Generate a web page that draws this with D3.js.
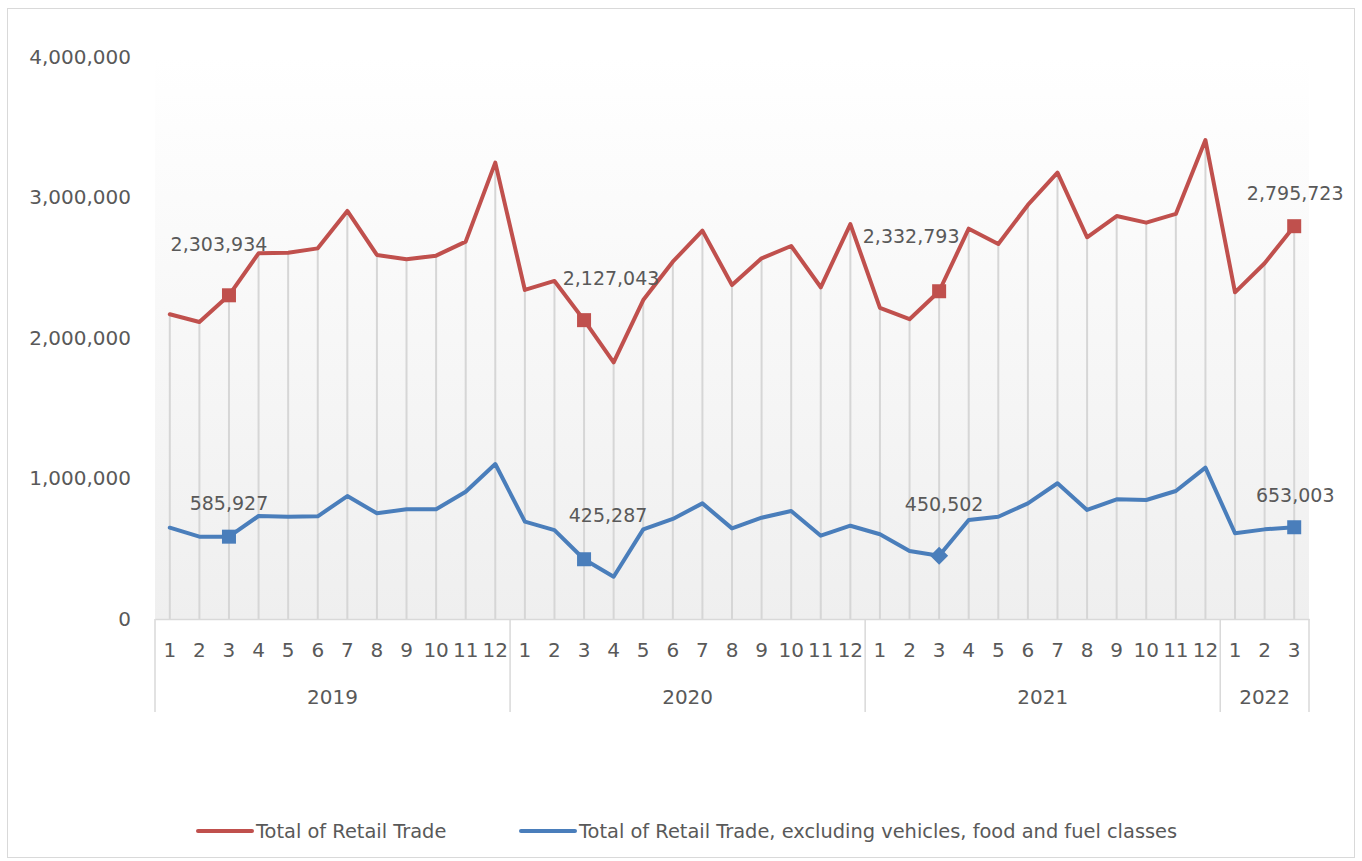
<!DOCTYPE html>
<html><head><meta charset="utf-8">
<script src="https://cdn.jsdelivr.net/npm/d3@7"></script>
<style>body{margin:0;background:#fff}svg{display:block}</style>
</head><body><svg id="c" width="1362" height="861"></svg>
<script>
const years = ["2019","2020","2021","2022"];
const monthsPerYear = [12,12,12,3];
const monthLabels = ["1","2","3","4","5","6","7","8","9","10","11","12"];
const totalRetail = [
 2169000,2114000,2303934,2603000,2607000,2638000,2904000,2591000,2560000,2586000,2686000,3248000,
 2342000,2406000,2127043,1827000,2270000,2543000,2764000,2377000,2567000,2655000,2361000,2811000,
 2214000,2134000,2332793,2778000,2669000,2947000,3177000,2717000,2868000,2821000,2883000,3409000,
 2325000,2532000,2795723];
const retailExcl = [
 650000,586000,585927,733000,728000,731000,875000,752000,781000,781000,906000,1103000,
 693000,633000,425287,301000,638000,712000,823000,645000,721000,769000,593000,664000,
 603000,484000,450502,705000,728000,823000,966000,776000,852000,847000,911000,1077000,
 610000,638000,653003];
const yTicks = [0,1000000,2000000,3000000,4000000];
const seriesNames = ["Total of Retail Trade","Total of Retail Trade, excluding vehicles, food and fuel classes"];
const highlightIdx = [2,14,26,38];
const blueMarkerShapes = ["square","square","diamond","square"];
const redLabelOffsets = [[-10,-51],[27,-42],[-28,-55],[1,-33]];
const blueLabelOffsets = [[0,-33],[24,-44],[5,-51],[1,-32]];

const red = "#c0504d", blue = "#4a7ebb", txt = "#595959", grid = "#d9d9d9";
const svg = d3.select("#c");
const L = 155, R = 1309, T = 57, B = 619;

const cats = [];
years.forEach((yr,g)=>{ for(let m=0;m<monthsPerYear[g];m++) cats.push({year:yr, month:monthLabels[m], g}); });
const x = d3.scaleBand().domain(d3.range(cats.length)).range([L,R]).padding(0);
const cx = i => x(i) + x.bandwidth()/2;
const y = d3.scaleLinear().domain([0,4000000]).range([B,T]);

svg.append("rect").attr("x",7.5).attr("y",8.5).attr("width",1347).attr("height",849)
  .attr("fill","#fff").attr("stroke",grid).attr("stroke-width",1);

const defs = svg.append("defs");
const lg = defs.append("linearGradient").attr("id","pg").attr("x1",0).attr("y1",0).attr("x2",0).attr("y2",1);
lg.append("stop").attr("offset","0%").attr("stop-color","#ffffff");
lg.append("stop").attr("offset","100%").attr("stop-color","#efefef");
svg.append("rect").attr("x",L).attr("y",T).attr("width",R-L).attr("height",B-T).attr("fill","url(#pg)");

svg.append("g").selectAll("line").data(cats).join("line")
  .attr("x1",(d,i)=>cx(i)).attr("x2",(d,i)=>cx(i))
  .attr("y1",(d,i)=>y(Math.max(totalRetail[i],retailExcl[i]))).attr("y2",B)
  .attr("stroke","#d6d6d6").attr("stroke-width",2);

const ya = svg.append("g").attr("transform",`translate(${L},0)`)
  .call(d3.axisLeft(y).tickValues(yTicks).tickSize(0).tickPadding(24).tickFormat(d3.format(",")));
ya.select(".domain").remove();
ya.selectAll("text").attr("fill",txt).style("font-family","DejaVu Sans").style("font-size","20px");

const xa = svg.append("g").attr("transform",`translate(0,${B})`)
  .call(d3.axisBottom(x).tickSize(0).tickPadding(24).tickFormat(i=>cats[i].month));
xa.select(".domain").attr("stroke",grid).attr("stroke-width",1.5);
xa.selectAll("text").attr("fill",txt).style("font-family","DejaVu Sans").style("font-size","20px");

let start = 0; const bounds=[];
years.forEach((yr,g)=>{ bounds.push([start, start+monthsPerYear[g]-1]); start += monthsPerYear[g]; });
const sepX = bounds.map(b=>x(b[0])).concat([x(bounds[bounds.length-1][1])+x.bandwidth()]);
svg.append("g").selectAll("line").data(sepX).join("line")
  .attr("x1",d=>d).attr("x2",d=>d).attr("y1",B).attr("y2",712)
  .attr("stroke",grid).attr("stroke-width",1.5);
svg.append("g").selectAll("text").data(years).join("text")
  .attr("x",(d,g)=>(x(bounds[g][0]) + x(bounds[g][1]) + x.bandwidth())/2)
  .attr("y",704).attr("text-anchor","middle").attr("fill",txt)
  .style("font-family","DejaVu Sans").style("font-size","20px").text(d=>d);

const line = d3.line().x((d,i)=>cx(i)).y(d=>y(d));
svg.append("path").datum(totalRetail).attr("d",line).attr("fill","none")
  .attr("stroke",red).attr("stroke-width",4).attr("stroke-linejoin","round").attr("stroke-linecap","round");
svg.append("path").datum(retailExcl).attr("d",line).attr("fill","none")
  .attr("stroke",blue).attr("stroke-width",4).attr("stroke-linejoin","round").attr("stroke-linecap","round");

const ms = 14;
svg.append("g").selectAll("rect").data(highlightIdx).join("rect")
  .attr("x",i=>cx(i)-ms/2).attr("y",i=>y(totalRetail[i])-ms/2).attr("width",ms).attr("height",ms).attr("fill",red);
const bm = svg.append("g");
highlightIdx.forEach((i,k)=>{
  const px=cx(i), py=y(retailExcl[i]);
  if(blueMarkerShapes[k]==="square"){
    bm.append("rect").attr("x",px-ms/2).attr("y",py-ms/2).attr("width",ms).attr("height",ms).attr("fill",blue);
  } else {
    bm.append("path").attr("d",`M${px},${py-9}L${px+9},${py}L${px},${py+9}L${px-9},${py}Z`).attr("fill",blue);
  }
});

const fmt = d3.format(",");
const lab = svg.append("g").style("font-family","DejaVu Sans").style("font-size","19px").attr("fill",txt).attr("text-anchor","middle");
highlightIdx.forEach((i,k)=>{
  lab.append("text").attr("x",cx(i)+redLabelOffsets[k][0]).attr("y",y(totalRetail[i])+redLabelOffsets[k][1])
    .attr("dy","0.35em").text(fmt(totalRetail[i]));
  lab.append("text").attr("x",cx(i)+blueLabelOffsets[k][0]).attr("y",y(retailExcl[i])+blueLabelOffsets[k][1])
    .attr("dy","0.35em").text(fmt(retailExcl[i]));
});

const legItems = [{name:seriesNames[0],c:red,x:198},{name:seriesNames[1],c:blue,x:521}];
const lgG = svg.append("g");
legItems.forEach(d=>{
  lgG.append("line").attr("x1",d.x).attr("x2",d.x+54).attr("y1",831).attr("y2",831)
    .attr("stroke",d.c).attr("stroke-width",4).attr("stroke-linecap","round");
  lgG.append("text").attr("x",d.x+58).attr("y",831).attr("dy","0.35em").attr("fill",txt)
    .style("font-family","DejaVu Sans").style("font-size","19.4px").text(d.name);
});
</script></body></html>
